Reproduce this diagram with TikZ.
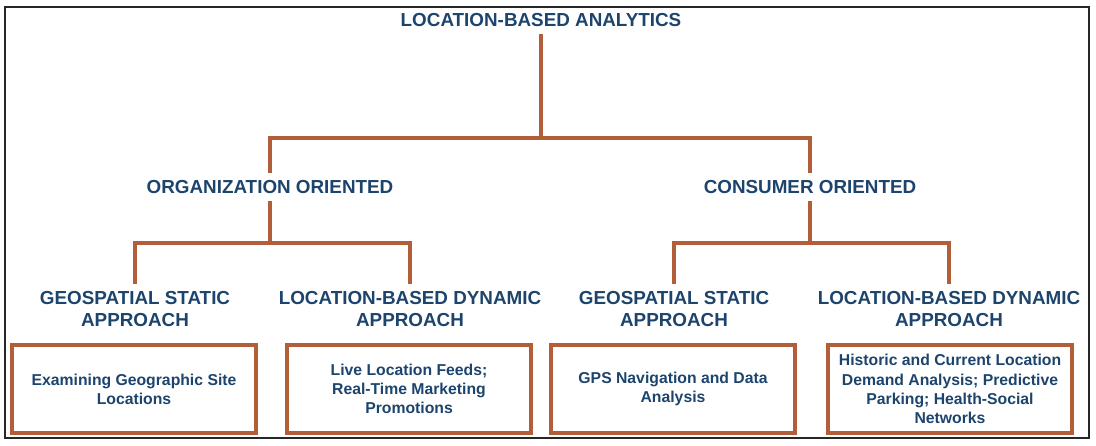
\documentclass[tikz,border=0pt]{standalone}
\usepackage{fontspec}
\setmainfont{Liberation Sans}
\definecolor{navy}{RGB}{28,68,108}
\definecolor{rust}{RGB}{178,94,56}
\begin{document}
\begin{tikzpicture}[x=0.025cm,y=-0.025cm,
  head/.style={text=navy,font=\bfseries\fontsize{13.4}{15.8}\selectfont,align=center,inner xsep=0pt,inner ysep=5pt},
  box/.style={draw=rust,line width=2.8pt,text=navy,font=\bfseries\fontsize{11.2}{13.6}\selectfont,align=center,minimum width=6.1cm,minimum height=2.2cm},
  link/.style={draw=rust,line width=2.4pt}]
\useasboundingbox (0,0) rectangle (1096,446);
\draw[line width=1.1pt,black!85] (5,7) rectangle (1089,438);
% titles
\node[head] (lba) at (541,20) {LOCATION-BASED ANALYTICS};
\node[head] (org) at (270,187) {ORGANIZATION ORIENTED};
\node[head] (con) at (810,187) {CONSUMER ORIENTED};
\node[head] (gs1) at (135,309) {GEOSPATIAL STATIC\\APPROACH};
\node[head] (dy1) at (410,309) {LOCATION-BASED DYNAMIC\\APPROACH};
\node[head] (gs2) at (674,309) {GEOSPATIAL STATIC\\APPROACH};
\node[head] (dy2) at (949,309) {LOCATION-BASED DYNAMIC\\APPROACH};
% boxes
\node[box] (b1) at (134,389) {Examining Geographic Site\\Locations};
\node[box] (b2) at (409,389) {Live Location Feeds;\\Real-Time Marketing\\Promotions};
\node[box] (b3) at (673,389) {GPS Navigation and Data\\Analysis};
\node[box] (b4) at (950,389) {Historic and Current Location\\Demand Analysis; Predictive\\Parking; Health-Social\\Networks};
% tree
\coordinate (fork) at (541,138);
\coordinate (forkl) at (270,243);
\coordinate (forkr) at (810,243);
\draw[link] (lba.south) -- (fork);
\draw[link] (org.north) -- (org.north |- fork) -- (con.north |- fork) -- (con.north);
\draw[link] (org.south) -- (forkl);
\draw[link] (gs1.north) -- (gs1.north |- forkl) -- (dy1.north |- forkl) -- (dy1.north);
\draw[link] (con.south) -- (forkr);
\draw[link] (gs2.north) -- (gs2.north |- forkr) -- (dy2.north |- forkr) -- (dy2.north);
\end{tikzpicture}
\end{document}
